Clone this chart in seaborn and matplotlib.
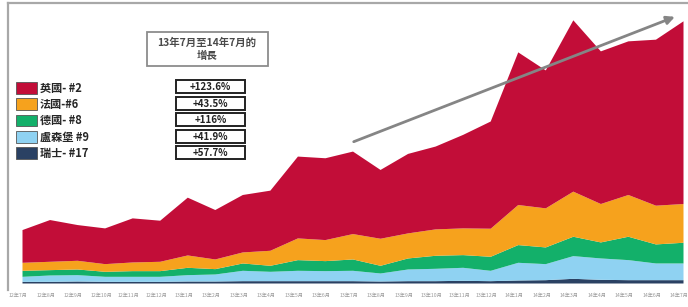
import matplotlib
matplotlib.use("Agg")
import matplotlib.pyplot as plt
import matplotlib.patches as mpatches
import seaborn as sns
import pandas as pd

# data (arbitrary units, stacked bottom -> top)
months = ["12年7月", "12年8月", "12年9月", "12年10月", "12年11月", "12年12月",
          "13年1月", "13年2月", "13年3月", "13年4月", "13年5月", "13年6月",
          "13年7月", "13年8月", "13年9月", "13年10月", "13年11月", "13年12月",
          "14年1月", "14年2月", "14年3月", "14年4月", "14年5月", "14年6月", "14年7月"]

swiss = [5, 5, 6, 5, 5, 5, 6, 6, 7, 7, 7, 7, 7, 6, 7, 7, 8, 7, 9, 10, 14, 11, 10, 10, 10]
luxembourg = [15, 19, 19, 15, 15, 15, 19, 21, 31, 28, 31, 30, 31, 24, 35, 37, 39, 31, 53, 48, 68, 64, 60, 50, 50]
germany = [18, 16, 17, 15, 17, 17, 22, 16, 22, 18, 32, 30, 34, 23, 33, 39, 38, 42, 53, 50, 58, 48, 70, 57, 62]
france = [24, 25, 26, 23, 26, 28, 37, 29, 33, 45, 65, 63, 76, 81, 75, 79, 80, 84, 120, 117, 135, 115, 125, 116, 116]
uk = [98, 125, 107, 107, 132, 123, 173, 148, 172, 180, 245, 245, 247, 206, 238, 248, 280, 321, 457, 413, 513, 457, 460, 497, 547]

series = ["瑞士- #17", "盧森堡 #9", "德國- #8", "法國-#6", "英國- #2"]
growth = ["+123.6%", "+43.5%", "+116%", "+41.9%", "+57.7%"]  # top -> bottom as in legend
box_title = "13年7月至14年7月的\n增長"

colors = ["#2a4163", "#8fd2f2", "#13b06a", "#f6a21d", "#c20d38"]

df = pd.DataFrame({"month": months, series[0]: swiss, series[1]: luxembourg,
                   series[2]: germany, series[3]: france, series[4]: uk})

sns.set_theme(style="white")
plt.rcParams["font.family"] = ["Noto Sans CJK TC", "DejaVu Sans"]

W, H = 688, 307
fig = plt.figure(figsize=(W / 100, H / 100), dpi=100)


def fx(x):
    return x / W


def fy(y):
    return 1 - y / H


ax = fig.add_axes([fx(8), fy(290), fx(688) - fx(8), fy(3) - fy(290)])

x = list(range(len(months)))
ax.stackplot(x, *[df[s] for s in series], colors=colors, linewidth=0)

# pixel mapping: index 0 at x=22, index 24 at x=683; value 0 at y=283
step = (683 - 22) / 24
ax.set_xlim(-(22 - 8) / step, 24 + (688 - 683) / step)
vscale = 0.334
ax.set_ylim(-(290 - 283) / vscale, (283 - 3) / vscale)

# labels sit a touch left of the data points, as in the original
ax.set_xticks([i - 0.13 for i in x])
ax.set_xticklabels(months, fontsize=3.7, color="#9a9a9a")
ax.tick_params(axis="x", length=0, pad=2)
ax.set_yticks([])

for s in ["right", "bottom"]:
    ax.spines[s].set_visible(False)
for s in ["top", "left"]:
    ax.spines[s].set_color("#a8a8a8")
    ax.spines[s].set_linewidth(1.6)

# trend arrow
ax.annotate("", xy=(23.8, 800), xytext=(11.95, 420),
            arrowprops=dict(arrowstyle="-|>", color="#858585", lw=2,
                            mutation_scale=12))

# legend (top -> bottom: UK first)
handles = [mpatches.Patch(facecolor=colors[i], edgecolor="#555555", linewidth=0.6)
           for i in range(4, -1, -1)]
labels = [series[i] for i in range(4, -1, -1)]
fig.legend(handles, labels, loc="upper left",
           bbox_to_anchor=(fx(12), fy(77)), frameon=False,
           prop=dict(size=8, weight="bold"), handlelength=1.85,
           handleheight=1.25, handletextpad=0.25, labelspacing=0.3,
           borderaxespad=0)

# title box
fig.patches.append(mpatches.Rectangle((fx(147), fy(66)), fx(268) - fx(147),
                                      fy(32) - fy(66), transform=fig.transFigure,
                                      facecolor="white", edgecolor="#8c8c8c",
                                      linewidth=1.3))
fig.text(fx(207), fy(49), box_title, ha="center", va="center", fontsize=7.5,
         fontweight="bold", color="#4a4a4a", linespacing=1.4)

# growth boxes
rows_top = [80, 97, 113, 130, 146]
for yt, g in zip(rows_top, growth):
    fig.patches.append(mpatches.Rectangle((fx(176), fy(yt + 13)), fx(245) - fx(176),
                                          fy(yt) - fy(yt + 13),
                                          transform=fig.transFigure,
                                          facecolor="white", edgecolor="#222222",
                                          linewidth=1.4))
    fig.text(fx(210.5), fy(yt + 6.8), g, ha="center", va="center", fontsize=7,
             fontweight="bold", color="#222222")

fig.savefig("out.png", dpi=100)
